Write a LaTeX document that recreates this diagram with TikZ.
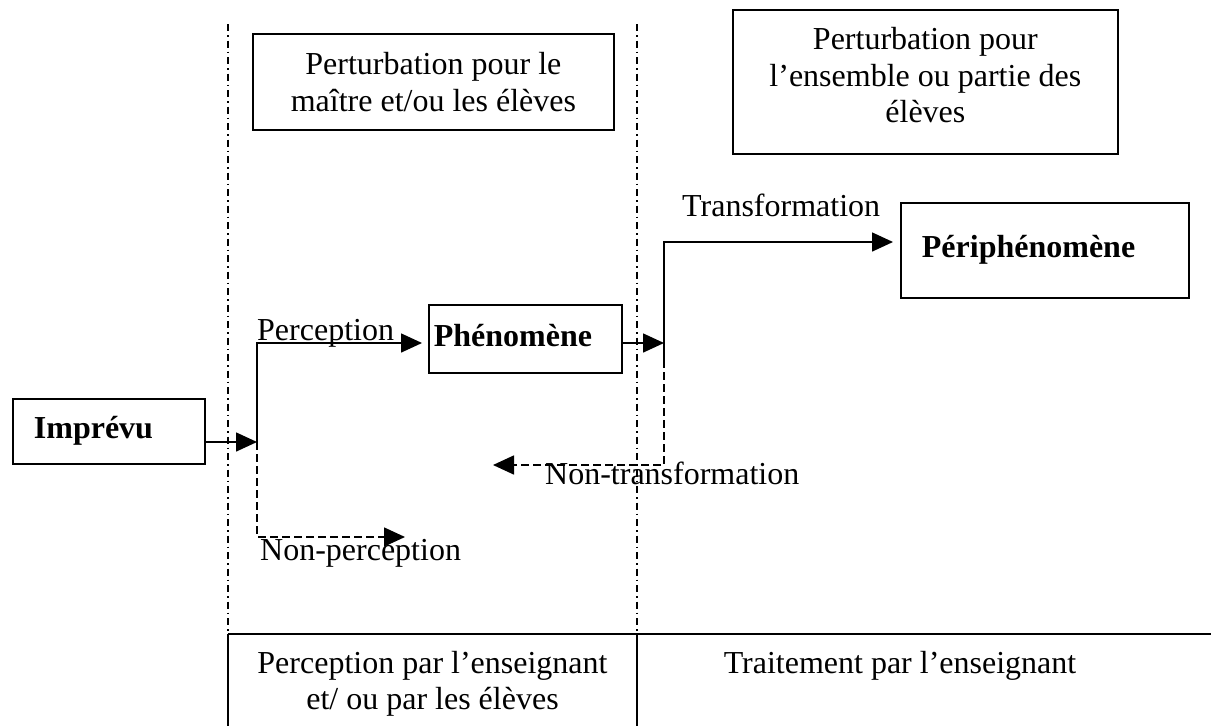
\documentclass[tikz,border=0pt]{standalone}
\usepackage{fontspec}
\setmainfont{Liberation Serif}
\usetikzlibrary{arrows.meta}
\begin{document}
\begin{tikzpicture}[x=1pt,y=-1pt,
  txt/.style={font=\fontsize{32}{36.5}\selectfont, inner sep=0pt},
  btxt/.style={font=\fontsize{32}{36.5}\selectfont\bfseries, inner sep=0pt},
  boxn/.style={draw, line width=1.8pt, anchor=north west},
  lbl/.style={txt, anchor=base west},
  arr/.style={line width=1.6pt, -{Triangle[length=21pt,width=19pt]}},
  ln/.style={line width=1.6pt},
  dsh/.style={line width=1.6pt, dash pattern=on 8pt off 4pt},
  dd/.style={line width=1.3pt, dash pattern=on 7pt off 4pt on 1.5pt off 4pt},
  rule/.style={line width=2pt},
]
\useasboundingbox (0,0) rectangle (1211,726);

% column separators and table
\coordinate (colLt) at (228,24);
\coordinate (colLm) at (228,634);
\coordinate (colLb) at (228,726);
\coordinate (colRt) at (637,24);
\coordinate (colRm) at (637,634);
\coordinate (colRb) at (637,726);
\coordinate (tabR) at (1211,634);
\draw[dd] (colLt) -- (colLm);
\draw[dd] (colRt) -- (colRm);
\draw[rule] (colLm) -- (tabR);
\draw[ln] (colLm) -- (colLb);
\draw[ln] (colRm) -- (colRb);

% boxes
\node[boxn, txt, text width=361pt, align=flush center, text height=41pt, text depth=55pt] (pertA) at (252,33)
  {Perturbation pour le\\maître et/ou les élèves};
\node[boxn, txt, text width=385pt, align=flush center, text height=40pt, text depth=104pt] (pertB) at (732,9)
  {Perturbation pour\\l’ensemble ou partie des\\élèves};
\node[boxn, btxt, inner xsep=21pt, text width=150pt, align=flush left, text height=40pt, text depth=25pt] (imp) at (12,398)
  {Imprévu};
\node[boxn, btxt, inner xsep=5pt, text width=183pt, align=flush left, text height=42pt, text depth=26pt] (phen) at (428,304)
  {Phénomène};
\node[boxn, btxt, inner xsep=21pt, text width=246pt, align=flush left, text height=55pt, text depth=40pt] (periph) at (900,202)
  {Périphénomène};

% table texts
\node[txt, text width=409pt, align=flush center, anchor=base] (cellL) at (432.5,673)
  {Perception par l’enseignant\\et/ ou par les élèves};
\node[txt, anchor=base] (cellR) at (900,673) {Traitement par l’enseignant};

% junctions
\coordinate (j1t) at (257,343);
\coordinate (j1) at (257,442);
\coordinate (j1b) at (257,537);
\coordinate (npend) at (405,537);
\coordinate (j2t) at (664,242);
\coordinate (j2m) at (664,343);
\coordinate (j2s) at (664,360);
\coordinate (j2b) at (664,465);
\coordinate (ntend) at (493,465);

% connectors
\draw[arr] (imp.east |- j1) -- (j1);
\draw[arr, shorten >=6pt] (j1) -- (j1t) -- (phen.west |- j1t);
\draw[dsh, arr] (j1) -- (j1b) -- (npend);
\draw[arr] (phen.east |- j2m) -- (j2m);
\draw[arr, shorten >=7pt] (j2s) -- (j2t) -- (periph.west |- j2t);
\draw[dsh, arr] (j2s) -- (j2b) -- (ntend);

% labels
\node[lbl] (lperc) at (257,340) {Perception};
\node[lbl] (lnonperc) at (260,560) {Non-perception};
\node[lbl] (ltrans) at (682,216) {Transformation};
\node[lbl] (lnontrans) at (545,484) {Non-transformation};
\end{tikzpicture}
\end{document}
